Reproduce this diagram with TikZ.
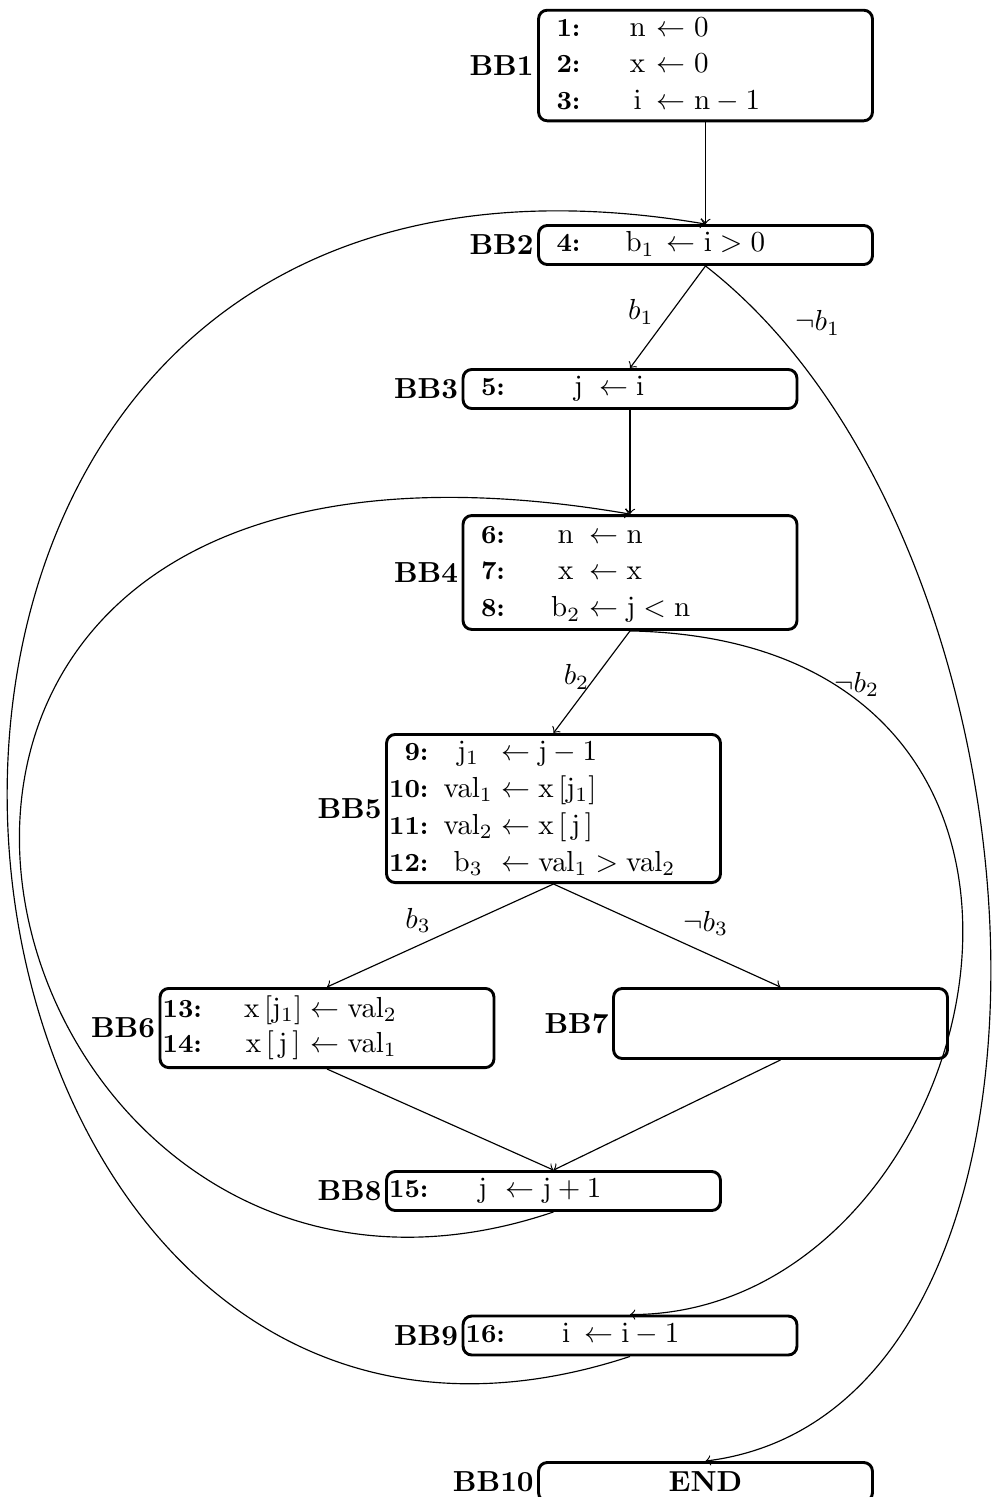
\documentclass[tikz,border=0pt]{standalone}
\newcommand\cfgnum[1]{\makebox[14.5pt][r]{\small\bfseries #1:}}
\newcommand\cfgtab[4]{\makebox[115.2pt][l]{\renewcommand\arraystretch{#3}\begin{tabular}{@{}r@{\hspace{#1}}c@{\hspace{#2}}l@{}}#4\end{tabular}}}
\tikzset{
  bb/.style={draw, line width=1pt, rounded corners=3pt, minimum width=115.2pt, inner sep=0pt},
  lbl/.style={font=\bfseries, inner sep=1pt},
  edge/.style={->},
  elab/.style={inner sep=1.5pt}
}
\begin{document}
\begin{tikzpicture}[x=0.345pt,y=-0.345pt]
\useasboundingbox (0,0) rectangle (992,1497);
\node[bb, minimum height=37.95pt, label={[lbl]left:BB1}] (bb1) at (705.5,65.5) {\cfgtab{16.9pt}{3.9pt}{1.06}{%
  \cfgnum{1} & $\mathrm{n}$ & $\leftarrow 0$\\
  \cfgnum{2} & $\mathrm{x}$ & $\leftarrow 0$\\
  \cfgnum{3} & $\mathrm{i}$ & $\leftarrow \mathrm{n}-1$}};
\node[bb, minimum height=13.45pt, label={[lbl]left:BB2}] (bb2) at (705.5,245) {\cfgtab{15.5pt}{4.2pt}{1}{%
  \cfgnum{4} & $\mathrm{b}_1$ & $\leftarrow \mathrm{i}>0$}};
\node[bb, minimum height=13.45pt, label={[lbl]left:BB3}] (bb3) at (630,389) {\cfgtab{23.8pt}{5.6pt}{1}{%
  \cfgnum{5} & $\mathrm{j}$ & $\leftarrow \mathrm{i}$}};
\node[bb, minimum height=39.3pt, label={[lbl]left:BB4}] (bb4) at (630,572.5) {\cfgtab{15.9pt}{3.2pt}{1.06}{%
  \cfgnum{6} & $\mathrm{n}$ & $\leftarrow \mathrm{n}$\\
  \cfgnum{7} & $\mathrm{x}$ & $\leftarrow \mathrm{x}$\\
  \cfgnum{8} & $\mathrm{b}_2$ & $\leftarrow \mathrm{j}<\mathrm{n}$}};
\node[bb, minimum height=51.1pt, label={[lbl]left:BB5}] (bb5) at (553.5,808.5) {\cfgtab{5.2pt}{2.9pt}{1.06}{%
  \cfgnum{9} & $\mathrm{j}_1$ & $\leftarrow \mathrm{j}-1$\\
  \cfgnum{10} & $\mathrm{val}_1$ & $\leftarrow \mathrm{x}\,[\mathrm{j}_1]$\\
  \cfgnum{11} & $\mathrm{val}_2$ & $\leftarrow \mathrm{x}\,[\,\mathrm{j}\,]$\\
  \cfgnum{12} & $\mathrm{b}_3$ & $\leftarrow \mathrm{val}_1>\mathrm{val}_2$}};
\node[bb, minimum height=27.3pt, label={[lbl]left:BB6}] (bb6) at (327,1028) {\cfgtab{14.5pt}{2.9pt}{1}{%
  \cfgnum{13} & $\mathrm{x}\,[\mathrm{j}_1]$ & $\leftarrow \mathrm{val}_2$\\
  \cfgnum{14} & $\mathrm{x}\,[\,\mathrm{j}\,]$ & $\leftarrow \mathrm{val}_1$}};
\node[bb, minimum height=24.15pt, label={[lbl]left:BB7}] (bb7) at (780.5,1023.5) {};
\node[bb, minimum height=13.45pt, label={[lbl]left:BB8}] (bb8) at (553.5,1191) {\cfgtab{17.2pt}{6.3pt}{1}{%
  \cfgnum{15} & $\mathrm{j}$ & $\leftarrow \mathrm{j}+1$}};
\node[bb, minimum height=13.45pt, label={[lbl]left:BB9}] (bb9) at (630,1335.5) {\cfgtab{19.7pt}{4.9pt}{1}{%
  \cfgnum{16} & $\mathrm{i}$ & $\leftarrow \mathrm{i}-1$}};
\node[bb, minimum height=13.45pt, label={[lbl]left:BB10}] (bb10) at (705.5,1482) {\textbf{END}};

\draw[edge] (bb1.south) -- (bb2.north);
\draw[edge] (bb2.south) -- node[pos=0.45, left, inner sep=6pt] {$b_1$} (bb3.north);
\draw[edge] (bb2.south) .. controls +(360,280) and +(400,-50) .. node[pos=0.055, anchor=west, xshift=8pt, yshift=-2pt] {$\neg b_1$} (bb10.north);
\draw[edge] (bb3.south) -- (bb4.north);
\draw[edge] (bb4.south) -- node[pos=0.45, left, inner sep=2pt] {$b_2$} (bb5.north);
\draw[edge] (bb4.south) .. controls +(520,10) and +(360,0) .. node[pos=0.16, anchor=west, elab, yshift=-1pt] {$\neg b_2$} (bb9.north);
\draw[edge] (bb5.south) -- node[pos=0.52, anchor=south east, elab] {$b_3$} (bb6.north);
\draw[edge] (bb5.south) -- node[pos=0.55, anchor=south west, elab] {$\neg b_3$} (bb7.north);
\draw[edge] (bb6.south) -- (bb8.north);
\draw[edge] (bb7.south) -- (bb8.north);
\draw[edge] (bb8.south) .. controls +(-590,200) and +(-930,-160) .. (bb4.north);
\draw[edge] (bb9.south) .. controls +(-760,250) and +(-1000,-170) .. (bb2.north);
\end{tikzpicture}
\end{document}
